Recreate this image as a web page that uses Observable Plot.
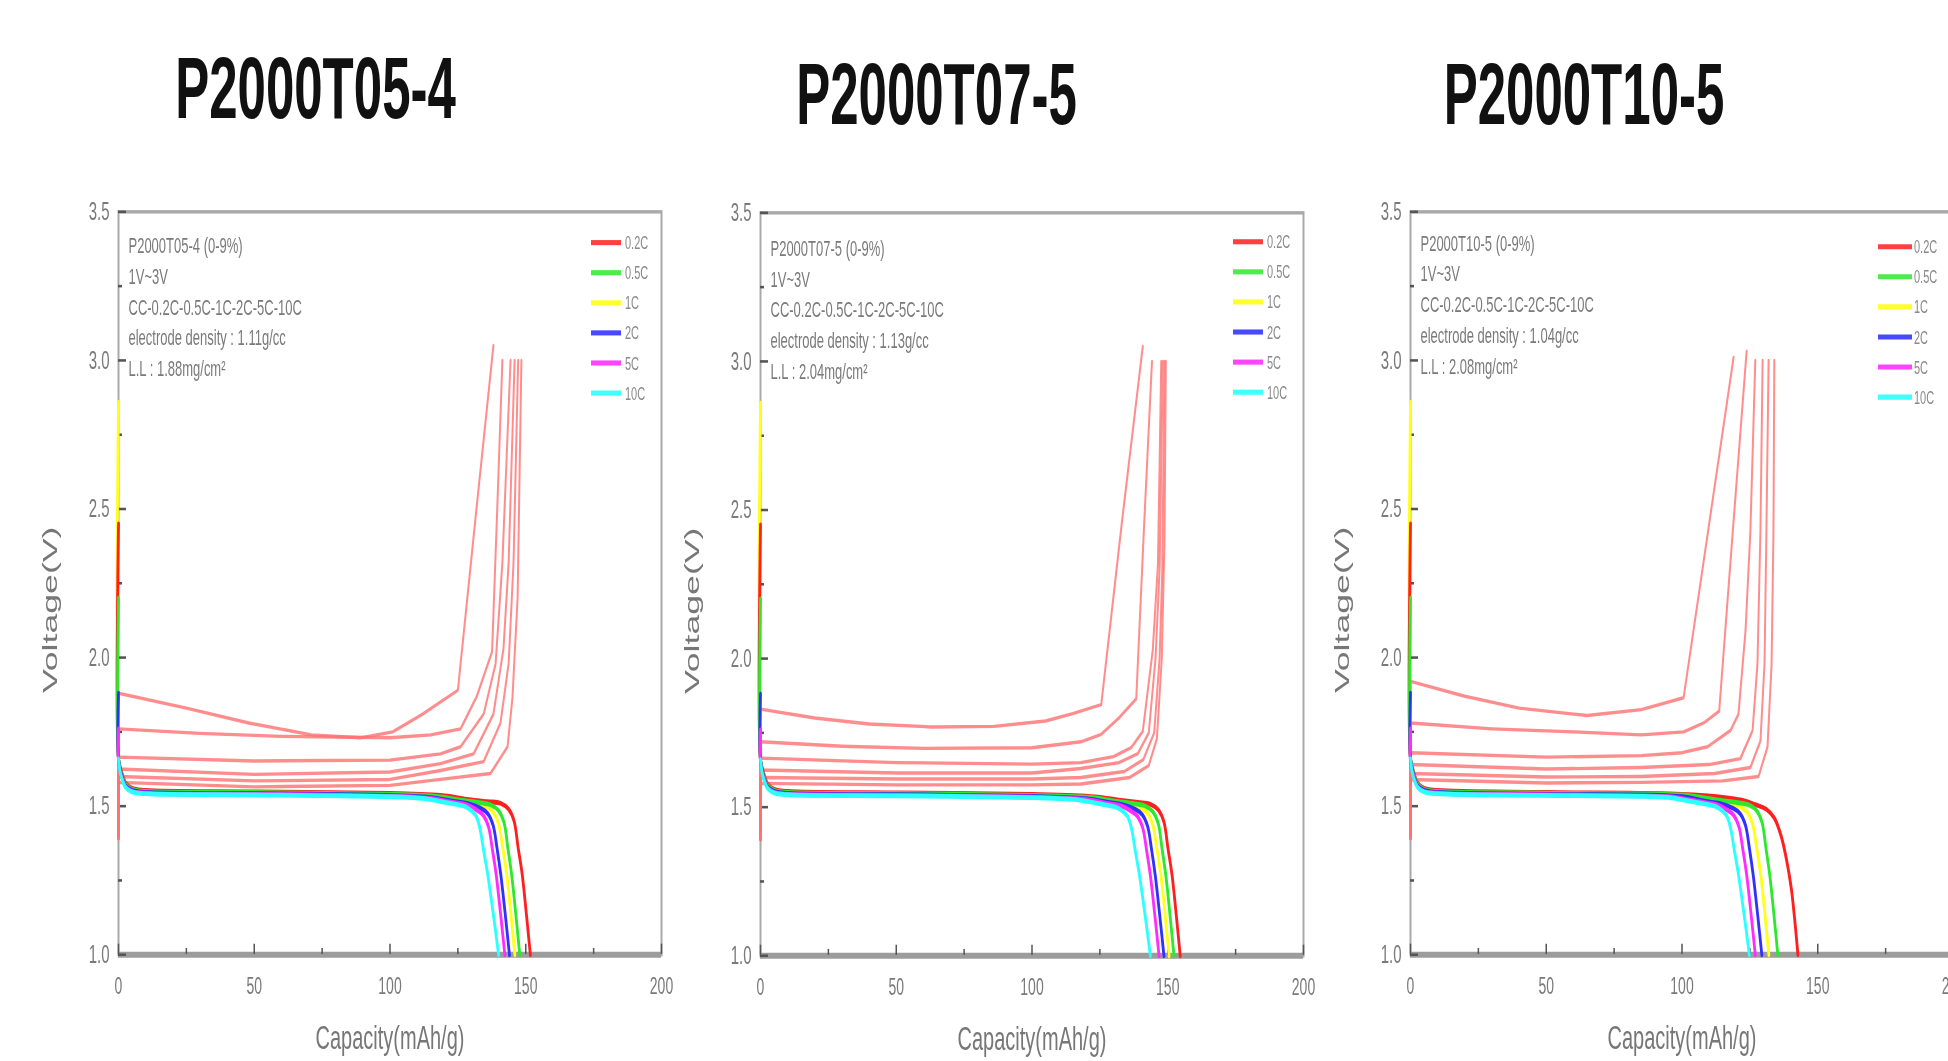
<!DOCTYPE html>
<html><head><meta charset="utf-8">
<script src="https://cdn.jsdelivr.net/npm/d3@7"></script>
<script src="https://cdn.jsdelivr.net/npm/@observablehq/plot@0.6"></script>
<style>
html,body{margin:0;padding:0;background:#fff;}
body{width:1948px;height:1061px;overflow:hidden;position:relative;font-family:"Liberation Sans",Arial,sans-serif;}
.title{position:absolute;font-weight:bold;font-size:51px;line-height:51px;white-space:nowrap;color:#111;transform-origin:0 0;}
.panel{position:absolute;transform-origin:0 0;width:643px;}
</style></head><body>
<script>
// ---------- categories / ticks ----------
const rates = ["0.2C","0.5C","1C","2C","5C","10C"];
const rateColors = ["#ff1f1f","#2ee82e","#ffff1a","#3030ff","#ff2cff","#2cffff"];
const legendColors = ["#ff4040","#4cec4c","#ffff30","#4848ff","#ff44ff","#40ffff"];
const drawOrder = ["1C","0.2C","0.5C","2C","5C","10C"];
const xMajorTicks = [0,50,100,150,200];
const xMinorTicks = [25,75,125,175];
const yMajorTicks = [1.0,1.5,2.0,2.5,3.0,3.5];
const yMinorTicks = [1.25,1.75,2.25,2.75,3.25];
const panelTitles = ["P2000T05-4","P2000T07-5","P2000T10-5"];
const notes_t05 = ["P2000T05-4 (0-9%)","1V~3V","CC-0.2C-0.5C-1C-2C-5C-10C","electrode density : 1.11g/cc","L.L : 1.88mg/cm²"];
const notes_t07 = ["P2000T07-5 (0-9%)","1V~3V","CC-0.2C-0.5C-1C-2C-5C-10C","electrode density : 1.13g/cc","L.L : 2.04mg/cm²"];
const notes_t10 = ["P2000T10-5 (0-9%)","1V~3V","CC-0.2C-0.5C-1C-2C-5C-10C","electrode density : 1.04g/cc","L.L : 2.08mg/cm²"];

// ---------- P2000T05-4 : charge curves [capacity, voltage] ----------
const t05_chg_1 = [[0,1.40],[0,1.88],[25,1.83],[48,1.78],[71,1.74],[89,1.73],[101,1.75],[112,1.81],[125,1.89],[131.5,2.47],[138.1,3.05]];
const t05_chg_2 = [[0,1.40],[0,1.76],[30,1.745],[60,1.735],[100,1.73],[115,1.74],[126,1.76],[132,1.87],[137.6,2.02],[139.5,2.5],[141.4,3.0]];
const t05_chg_3 = [[0,1.39],[0,1.665],[50,1.652],[100,1.655],[118.6,1.676],[126,1.70],[134.5,1.81],[138.9,1.98],[141.4,2.32],[144.4,3.0]];
const t05_chg_4 = [[0,1.39],[0,1.625],[50,1.607],[100,1.615],[118.6,1.643],[130.8,1.676],[138.1,1.81],[141.8,2.03],[143.7,2.32],[145.9,3.0]];
const t05_chg_5 = [[0,1.39],[0,1.60],[50,1.585],[100,1.59],[118.6,1.62],[134.5,1.65],[140.7,1.78],[143.7,1.98],[145.5,2.32],[147.2,3.0]];
const t05_chg_6 = [[0,1.39],[0,1.58],[50,1.565],[100,1.57],[118.6,1.59],[137,1.61],[143.3,1.70],[145.1,1.865],[147,2.20],[148.4,3.0]];
// ---------- P2000T05-4 : discharge curves ----------
const t05_dis_02C = [[0,2.45],[0,1.66],[1,1.62],[2.5,1.58],[5,1.56],[10,1.553],[50,1.548],[100,1.543],[120,1.535],[129,1.522],[136,1.515],[140.7,1.51],[143.7,1.49],[145.7,1.45],[147.2,1.36],[148.7,1.27],[150.2,1.14],[151.7,1.0]];
const t05_dis_05C = [[0,2.20],[0,1.66],[1,1.615],[2.5,1.575],[5,1.557],[10,1.55],[50,1.546],[100,1.54],[118,1.532],[126,1.52],[133,1.512],[137,1.505],[140,1.485],[142,1.445],[143.4,1.36],[144.8,1.27],[146.3,1.14],[147.8,1.0]];
const t05_dis_1C  = [[0,2.86],[0,1.66],[1,1.612],[2.5,1.572],[5,1.555],[10,1.548],[50,1.544],[100,1.538],[117,1.53],[125,1.518],[131,1.51],[135,1.50],[138,1.48],[140,1.44],[141.5,1.36],[143,1.27],[144.5,1.14],[146,1.0]];
const t05_dis_2C  = [[0,1.88],[0,1.66],[1,1.61],[2.5,1.57],[5,1.553],[10,1.546],[50,1.542],[100,1.536],[116,1.528],[124,1.515],[129,1.508],[133,1.495],[136,1.475],[138,1.435],[139.4,1.36],[140.8,1.27],[142.4,1.14],[144,1.0]];
const t05_dis_5C  = [[0,1.76],[0,1.65],[1,1.605],[2.5,1.567],[5,1.55],[10,1.544],[50,1.54],[100,1.534],[115,1.526],[123,1.513],[128,1.505],[131.5,1.49],[134.3,1.47],[136.3,1.43],[137.7,1.355],[139.1,1.27],[140.7,1.14],[142.3,1.0]];
const t05_dis_10C = [[0,1.66],[0.5,1.62],[1,1.60],[2.5,1.565],[5,1.548],[10,1.542],[50,1.538],[100,1.532],[114,1.524],[121,1.512],[125,1.505],[128.5,1.495],[131.5,1.47],[133,1.43],[134.5,1.35],[136,1.27],[138,1.14],[140,1.0]];

// ---------- P2000T07-5 : charge curves ----------
const t07_chg_1 = [[0,1.40],[0,1.83],[20,1.80],[40,1.78],[63,1.77],[86,1.772],[105,1.79],[115,1.815],[125.5,1.845],[133,2.45],[140.8,3.05]];
const t07_chg_2 = [[0,1.40],[0,1.72],[30,1.705],[60,1.698],[100,1.70],[118,1.72],[125.5,1.745],[132,1.80],[138.4,1.865],[141.3,2.45],[144.2,3.0]];
const t07_chg_3 = [[0,1.39],[0,1.665],[50,1.65],[100,1.645],[118,1.65],[130,1.67],[136.5,1.70],[140.8,1.755],[144.5,2.03],[146.4,2.32],[147.6,3.0]];
const t07_chg_4 = [[0,1.39],[0,1.625],[50,1.615],[100,1.615],[118,1.63],[132,1.65],[139,1.68],[143,1.75],[145.5,2.0],[147,2.3],[148.2,3.0]];
const t07_chg_5 = [[0,1.39],[0,1.60],[50,1.595],[100,1.595],[118,1.60],[134,1.62],[141,1.66],[145,1.75],[147,2.0],[148,2.3],[148.8,3.0]];
const t07_chg_6 = [[0,1.39],[0,1.58],[50,1.575],[100,1.575],[118,1.578],[136,1.60],[143,1.64],[146,1.73],[147.8,2.0],[148.8,2.4],[149.3,3.0]];
// ---------- P2000T07-5 : discharge curves ----------
const t07_dis_02C = [[0,2.45],[0,1.66],[1,1.62],[2.5,1.58],[5,1.56],[10,1.553],[50,1.548],[100,1.543],[123,1.535],[132,1.524],[139,1.516],[143.6,1.51],[146.6,1.49],[148.6,1.45],[150.1,1.36],[151.6,1.27],[153.1,1.14],[154.6,1.0]];
const t07_dis_05C = [[0,2.20],[0,1.66],[1,1.615],[2.5,1.575],[5,1.557],[10,1.55],[50,1.546],[100,1.54],[122.5,1.532],[130.5,1.52],[137.5,1.512],[141.5,1.505],[144.5,1.485],[146.5,1.445],[147.9,1.36],[149.3,1.27],[150.8,1.14],[152.3,1.0]];
const t07_dis_1C  = [[0,2.86],[0,1.66],[1,1.612],[2.5,1.572],[5,1.555],[10,1.548],[50,1.544],[100,1.538],[121.5,1.53],[129.5,1.518],[135.5,1.51],[139.5,1.50],[142.5,1.48],[144.5,1.44],[146,1.36],[147.5,1.27],[149,1.14],[150.5,1.0]];
const t07_dis_2C  = [[0,1.88],[0,1.66],[1,1.61],[2.5,1.57],[5,1.553],[10,1.546],[50,1.542],[100,1.536],[120.6,1.528],[128.6,1.515],[133.6,1.508],[137.6,1.495],[140.6,1.475],[142.6,1.435],[144,1.36],[145.4,1.27],[147,1.14],[148.6,1.0]];
const t07_dis_5C  = [[0,1.76],[0,1.65],[1,1.605],[2.5,1.567],[5,1.55],[10,1.544],[50,1.54],[100,1.534],[119.5,1.526],[127.5,1.513],[132.5,1.505],[136,1.49],[138.8,1.47],[140.8,1.43],[142.2,1.355],[143.6,1.27],[145.2,1.14],[146.8,1.0]];
const t07_dis_10C = [[0,1.66],[0.5,1.62],[1,1.60],[2.5,1.565],[5,1.548],[10,1.542],[50,1.538],[100,1.532],[117.6,1.524],[124.6,1.512],[128.6,1.505],[132.1,1.495],[135.1,1.47],[136.6,1.43],[138.1,1.35],[139.6,1.27],[141.6,1.14],[143.6,1.0]];

// ---------- P2000T10-5 : charge curves ----------
const t10_chg_1 = [[0,1.40],[0,1.92],[20,1.87],[40,1.83],[65,1.805],[85,1.825],[100.6,1.865],[110,2.45],[119,3.01]];
const t10_chg_2 = [[0,1.40],[0,1.78],[30,1.76],[60,1.75],[85,1.74],[100.6,1.75],[108,1.78],[113.7,1.82],[118.5,2.4],[123.8,3.03]];
const t10_chg_3 = [[0,1.39],[0,1.68],[50,1.665],[85,1.67],[100,1.68],[109.4,1.70],[117.9,1.755],[120.8,1.81],[123.4,2.09],[125.2,2.43],[127,3.0]];
const t10_chg_4 = [[0,1.39],[0,1.64],[50,1.625],[85,1.63],[110,1.64],[121.5,1.66],[126,1.755],[127.8,1.98],[128.9,2.43],[129.7,3.0]];
const t10_chg_5 = [[0,1.39],[0,1.61],[50,1.598],[85,1.60],[112,1.61],[125.2,1.63],[128.9,1.72],[130.4,1.98],[131.1,2.43],[131.9,3.0]];
const t10_chg_6 = [[0,1.39],[0,1.59],[50,1.578],[85,1.58],[115,1.585],[128.2,1.60],[131.5,1.70],[133,1.98],[133.7,2.43],[134,3.0]];
// ---------- P2000T10-5 : discharge curves ----------
const t10_dis_02C = [[0,2.45],[0,1.66],[1,1.62],[2.5,1.58],[5,1.56],[10,1.553],[50,1.546],[100,1.54],[115,1.53],[122,1.52],[127,1.505],[131,1.49],[134,1.46],[136.5,1.40],[138.5,1.32],[140.3,1.22],[141.6,1.11],[142.7,1.0]];
const t10_dis_05C = [[0,2.20],[0,1.66],[1,1.615],[2.5,1.575],[5,1.557],[10,1.55],[50,1.544],[100,1.538],[105.5,1.532],[113.5,1.52],[120.5,1.512],[124.5,1.505],[127.5,1.485],[129.5,1.445],[130.9,1.36],[132.3,1.27],[133.8,1.14],[135.3,1.0]];
const t10_dis_1C  = [[0,2.86],[0,1.66],[1,1.612],[2.5,1.572],[5,1.555],[10,1.548],[50,1.542],[100,1.536],[103,1.53],[111,1.518],[117,1.51],[121,1.50],[124,1.48],[126,1.44],[127.5,1.36],[129,1.27],[130.5,1.14],[132,1.0]];
const t10_dis_2C  = [[0,1.88],[0,1.66],[1,1.61],[2.5,1.57],[5,1.553],[10,1.546],[50,1.54],[100,1.532],[109.4,1.515],[114.4,1.508],[118.4,1.495],[121.4,1.475],[123.4,1.435],[124.8,1.36],[126.2,1.27],[127.8,1.14],[129.4,1.0]];
const t10_dis_5C  = [[0,1.76],[0,1.65],[1,1.605],[2.5,1.567],[5,1.55],[10,1.544],[50,1.538],[95,1.532],[99.7,1.526],[107.7,1.513],[112.7,1.505],[116.2,1.49],[119,1.47],[121,1.43],[122.4,1.355],[123.8,1.27],[125.4,1.14],[127,1.0]];
const t10_dis_10C = [[0,1.66],[0.5,1.62],[1,1.60],[2.5,1.565],[5,1.548],[10,1.542],[50,1.536],[95,1.53],[98.8,1.524],[105.8,1.512],[109.8,1.505],[113.3,1.495],[116.3,1.47],[117.8,1.43],[119.3,1.35],[120.8,1.27],[122.8,1.14],[124.8,1.0]];

// ---------- layout ----------
const S = 1.7;               // vertical stretch of the original picture
const FW = 543, FH = 437;    // frame size (unscaled)
const panels = [
  {title: panelTitles[0], notes: notes_t05, left: 28, top: 194, titleX: 315.5, titleTop: 44.6, noteDy: 11.5, legendTop: 18.6, legendX: [70, 40, 36],
   charge: [t05_chg_1,t05_chg_2,t05_chg_3,t05_chg_4,t05_chg_5,t05_chg_6],
   discharge: {"0.2C": t05_dis_02C, "0.5C": t05_dis_05C, "1C": t05_dis_1C, "2C": t05_dis_2C, "5C": t05_dis_5C, "10C": t05_dis_10C}},
  {title: panelTitles[1], notes: notes_t07, left: 670, top: 195, titleX: 936.5, titleTop: 50.6, noteDy: 12.5, legendTop: 17.5, legendX: [70, 40, 36],
   charge: [t07_chg_1,t07_chg_2,t07_chg_3,t07_chg_4,t07_chg_5,t07_chg_6],
   discharge: {"0.2C": t07_dis_02C, "0.5C": t07_dis_05C, "1C": t07_dis_1C, "2C": t07_dis_2C, "5C": t07_dis_5C, "10C": t07_dis_10C}},
  {title: panelTitles[2], notes: notes_t10, left: 1320, top: 194, titleX: 1584, titleTop: 50.6, noteDy: 10, legendTop: 21, legendX: [75, 41, 39],
   charge: [t10_chg_1,t10_chg_2,t10_chg_3,t10_chg_4,t10_chg_5,t10_chg_6],
   discharge: {"0.2C": t10_dis_02C, "0.5C": t10_dis_05C, "1C": t10_dis_1C, "2C": t10_dis_2C, "5C": t10_dis_5C, "10C": t10_dis_10C}}
];

function rowsOf(arr, id) { return arr.map(([cap, v]) => ({cap, v, id})); }

function legendMark(p) {
  return (index, scales, values, dims) => {
    const g = d3.create("svg:g");
    const right = dims.width - dims.marginRight;
    rates.forEach((r, i) => {
      const y = dims.marginTop + p.legendTop + i * 17.7;
      g.append("line").attr("x1", right - p.legendX[0]).attr("x2", right - p.legendX[1])
        .attr("y1", y).attr("y2", y).attr("stroke", legendColors[i]).attr("stroke-width", 3);
      g.append("text").attr("x", right - p.legendX[2]).attr("y", y).attr("dy", "0.35em")
        .attr("text-anchor", "start").attr("font-size", 11).attr("fill", "#8a8a8a").text(r);
    });
    return g.node();
  };
}

panels.forEach(p => {
  const chargeRows = p.charge.flatMap((c, i) => rowsOf(c, "c" + i));
  const chart = Plot.plot({
    width: 643, height: 507,
    marginLeft: 90, marginRight: 10, marginTop: 10, marginBottom: 60,
    x: {domain: [0, 200]},
    y: {domain: [1.0, 3.5]},
    style: {fontFamily: "Liberation Sans, Arial, sans-serif", fontSize: "14px", color: "#7a7a7a", background: "transparent", maxWidth: "none", overflow: "visible"},
    marks: [
      Plot.frame({stroke: "#a9a9a9", strokeWidth: 2}),
      Plot.ruleY([1.0], {stroke: "#9c9c9c", strokeWidth: 3.5}),
      Plot.tickX(xMajorTicks, {x: d => d, stroke: "#555", strokeWidth: 1.5, insetTop: FH - 6}),
      Plot.tickX(xMinorTicks, {x: d => d, stroke: "#555", strokeWidth: 1.5, insetTop: FH - 3.5}),
      Plot.tickY(yMajorTicks, {y: d => d, stroke: "#555", strokeWidth: 1.5, insetRight: FW - 8}),
      Plot.tickY(yMinorTicks, {y: d => d, stroke: "#555", strokeWidth: 1.5, insetRight: FW - 4}),
      Plot.axisX({ticks: xMajorTicks, tickSize: 0, tickPadding: 13, label: null, fontSize: 14, tickFormat: d3.format("d")}),
      Plot.axisY({ticks: yMajorTicks, tickSize: 0, tickPadding: 9, label: null, fontSize: 15, tickFormat: d3.format(".1f")}),
      Plot.line(chargeRows, {x: "cap", y: "v", z: "id", stroke: "#ff7070", strokeWidth: 2, strokeOpacity: 0.8}),
      ...drawOrder.map(rate => Plot.line(rowsOf(p.discharge[rate], rate), {x: "cap", y: "v", stroke: rateColors[rates.indexOf(rate)], strokeWidth: 2.8, curve: "catmull-rom"})),
      Plot.text([p.notes.join("\n")], {text: d => d, frameAnchor: "top-left", dx: 10, dy: p.noteDy, textAnchor: "start", lineAnchor: "top", lineHeight: 1.39, fontSize: 13, fill: "#7a7a7a"}),
      legendMark(p),
      Plot.text(["Voltage(V)"], {text: d => d, frameAnchor: "left", dx: -68, dy: 15.6, rotate: -90, fontSize: 21, fill: "#777", textAnchor: "middle", lineAnchor: "middle"}),
      Plot.text(["Capacity(mAh/g)"], {text: d => d, frameAnchor: "bottom", dy: 49, fontSize: 20, fill: "#777", textAnchor: "middle", lineAnchor: "middle"})
    ]
  });
  const wrap = document.createElement("div");
  wrap.className = "panel";
  wrap.style.left = p.left + "px";
  wrap.style.top = p.top + "px";
  wrap.style.transform = `scaleY(${S})`;
  wrap.appendChild(chart);
  document.body.appendChild(wrap);

  const t = document.createElement("div");
  t.className = "title";
  t.textContent = p.title;
  t.style.left = p.titleX + "px";
  t.style.top = p.titleTop + "px";
  t.style.transform = `translateX(-50%) scaleY(${S})`;
  document.body.appendChild(t);
});
</script></body></html>
